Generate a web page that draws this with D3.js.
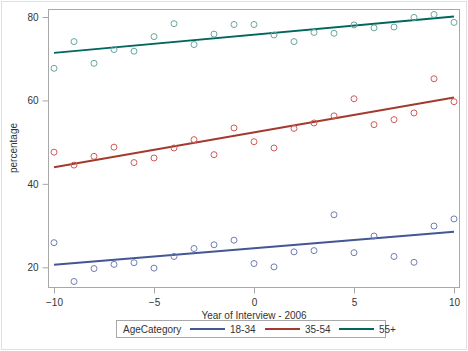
<!DOCTYPE html>
<html>
<head>
<meta charset="utf-8">
<script src="https://cdn.jsdelivr.net/npm/d3@7"></script>
<style>
  body { margin: 0; background: #fff; }
  text { font-family: "Liberation Sans", Arial, sans-serif; fill: #333; }
</style>
</head>
<body>
<div id="chart"></div>
<script>
// data
const years = d3.range(-10, 11)
const young = [25.9, 16.6, 19.7, 20.7, 21.1, 19.8, 22.6, 24.5, 25.4, 26.5, 20.9, 20.1, 23.7, 24.0, 32.6, 23.5, 27.5, 22.6, 21.2, 29.9, 31.6]
const middle = [47.6, 44.5, 46.6, 48.8, 45.1, 46.2, 48.6, 50.6, 47.0, 53.4, 50.1, 48.6, 53.3, 54.6, 56.3, 60.4, 54.2, 55.4, 57.0, 65.2, 59.7]
const older = [67.7, 74.1, 68.9, 72.2, 71.8, 75.3, 78.4, 73.4, 75.9, 78.2, 78.2, 75.7, 74.1, 76.3, 76.1, 78.1, 77.4, 77.6, 79.9, 80.6, 78.7]
// fitted line ends at x=-10 and x=10
const youngFit = [20.6, 28.5]
const middleFit = [44.0, 60.7]
const olderFit = [71.4, 80.1]
const groups = ["18-34", "35-54", "55+"]
const xTicks = [-10, -5, 0, 5, 10]
const yTicks = [20, 40, 60, 80]

const series = [
  {name: groups[0], values: young, fit: youngFit, line: "#445694", marker: "#6f7eb3"},
  {name: groups[1], values: middle, fit: middleFit, line: "#a23a2e", marker: "#d05b5b"},
  {name: groups[2], values: older, fit: olderFit, line: "#01665e", marker: "#66a5a0"},
]

const width = 468, height = 351
const frame = {left: 48, top: 9, right: 459, bottom: 287}

const svg = d3.select("#chart").append("svg")
    .attr("width", width)
    .attr("height", height)

// outer border
svg.append("rect")
    .attr("x", 1.5).attr("y", 1.5)
    .attr("width", width - 3).attr("height", height - 3)
    .attr("fill", "none").attr("stroke", "#e0e0e0")

const x = d3.scaleLinear().domain([-10, 10]).range([54, 454])
const y = d3.scaleLinear().domain([20, 80]).range([267.3, 17])

// plot frame
svg.append("rect")
    .attr("x", frame.left + 0.5).attr("y", frame.top + 0.5)
    .attr("width", frame.right - frame.left).attr("height", frame.bottom - frame.top)
    .attr("fill", "none").attr("stroke", "#a8a8a8")

// axes
const xAxis = svg.append("g")
    .attr("transform", `translate(0,${frame.bottom + 0.5})`)
    .call(d3.axisBottom(x).tickValues(xTicks).tickSize(6).tickPadding(5))
const yAxis = svg.append("g")
    .attr("transform", `translate(${frame.left + 0.5},0)`)
    .call(d3.axisLeft(y).tickValues(yTicks).tickSize(6).tickPadding(4))

for (const ax of [xAxis, yAxis]) {
  ax.select(".domain").remove()
  ax.selectAll(".tick line").attr("stroke", "#a8a8a8")
  ax.selectAll(".tick text").attr("font-size", 10).attr("fill", "#333")
    .style("font-family", "Liberation Sans, Arial, sans-serif")
}

// fit lines then markers
const plot = svg.append("g")
for (const s of series) {
  plot.append("line")
      .attr("x1", x(-10)).attr("y1", y(s.fit[0]))
      .attr("x2", x(10)).attr("y2", y(s.fit[1]))
      .attr("stroke", s.line).attr("stroke-width", 2)
}
for (const s of series) {
  plot.selectAll(null)
    .data(s.values)
    .join("circle")
      .attr("cx", (d, i) => x(years[i]))
      .attr("cy", d => y(d))
      .attr("r", 3)
      .attr("fill", "none")
      .attr("stroke", s.marker)
      .attr("stroke-width", 1)
}

// axis titles
svg.append("text")
    .attr("x", (x(-10) + x(10)) / 2).attr("y", 319)
    .attr("text-anchor", "middle").attr("font-size", 10)
    .text("Year of Interview - 2006")
svg.append("text")
    .attr("transform", `translate(17,${(frame.top + frame.bottom) / 2}) rotate(-90)`)
    .attr("text-anchor", "middle").attr("font-size", 10)
    .text("percentage")

// legend
const legend = svg.append("g")
legend.append("rect")
    .attr("x", 116.5).attr("y", 320.5)
    .attr("width", 269).attr("height", 17)
    .attr("fill", "none").attr("stroke", "#a8a8a8")
legend.append("text")
    .attr("x", 123).attr("y", 332.5).attr("font-size", 10)
    .text("AgeCategory")
const legendX = [190, 265, 339]
series.forEach((s, i) => {
  legend.append("line")
      .attr("x1", legendX[i]).attr("x2", legendX[i] + 35)
      .attr("y1", 329).attr("y2", 329)
      .attr("stroke", s.line).attr("stroke-width", 2)
  legend.append("text")
      .attr("x", legendX[i] + 40).attr("y", 332.5).attr("font-size", 10)
      .text(s.name)
})
</script>
</body>
</html>
